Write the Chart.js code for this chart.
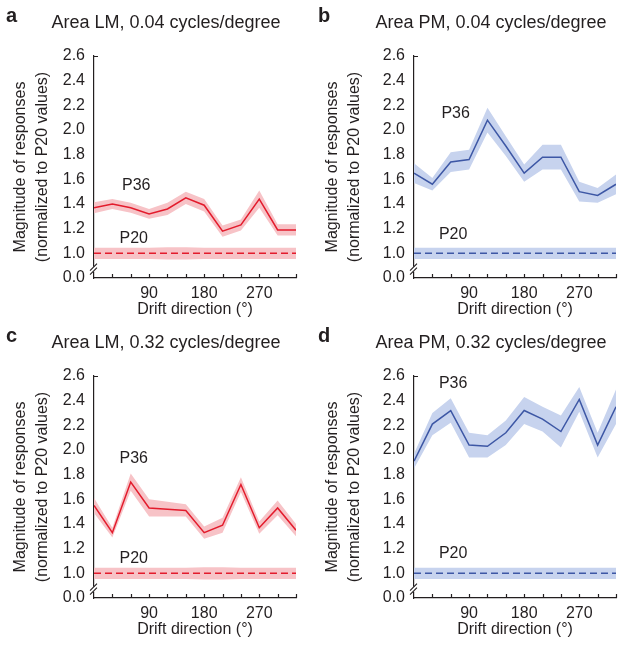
<!DOCTYPE html>
<html>
<head>
<meta charset="utf-8">
<title>P36 vs P20 responses by drift direction</title>
<script src="https://cdn.jsdelivr.net/npm/chart.js@4.4.1/dist/chart.umd.min.js"></script>
<style>
  body { margin: 0; background: #fff; }
  #wrap { position: relative; width: 624px; height: 645px; }
  .panel { position: absolute; }
</style>
</head>
<body>
<div id="wrap">
  <div class="panel" style="left:0;top:0"><canvas id="chartA" width="312" height="322"></canvas></div>
  <div class="panel" style="left:312px;top:0"><canvas id="chartB" width="312" height="322"></canvas></div>
  <div class="panel" style="left:0;top:320px"><canvas id="chartC" width="312" height="322"></canvas></div>
  <div class="panel" style="left:312px;top:320px"><canvas id="chartD" width="312" height="322"></canvas></div>
</div>
<script>
// drift directions (deg) and tick labels
var directions = [0, 30, 60, 90, 120, 150, 180, 210, 240, 270, 300, 330];
var xTickLabels = ["90", "180", "270"];
var yTickValues = [0.8, 1.0, 1.2, 1.4, 1.6, 1.8, 2.0, 2.2, 2.4, 2.6];
var yTickLabels = ["0.0", "1.0", "1.2", "1.4", "1.6", "1.8", "2.0", "2.2", "2.4", "2.6"];

// a: Area LM, 0.04 cycles/degree
var lm004P36 = [1.37, 1.40, 1.37, 1.32, 1.36, 1.45, 1.39, 1.18, 1.23, 1.44, 1.19, 1.19];
var lm004P36Sem = [0.045, 0.04, 0.04, 0.04, 0.05, 0.05, 0.05, 0.045, 0.045, 0.07, 0.045, 0.045];
var lm004P20 = [1, 1, 1, 1, 1, 1, 1, 1, 1, 1, 1, 1];
var lm004P20Sem = [0.045, 0.045, 0.045, 0.045, 0.05, 0.05, 0.045, 0.045, 0.045, 0.045, 0.045, 0.045];

// b: Area PM, 0.04 cycles/degree
var pm004P36 = [1.65, 1.56, 1.74, 1.76, 2.08, 1.87, 1.65, 1.78, 1.78, 1.50, 1.47, 1.56];
var pm004P36Sem = [0.08, 0.05, 0.08, 0.08, 0.10, 0.08, 0.07, 0.10, 0.10, 0.08, 0.06, 0.08];
var pm004P20 = [1, 1, 1, 1, 1, 1, 1, 1, 1, 1, 1, 1];
var pm004P20Sem = [0.045, 0.045, 0.045, 0.045, 0.045, 0.045, 0.045, 0.045, 0.045, 0.045, 0.045, 0.045];

// c: Area LM, 0.32 cycles/degree
var lm032P36 = [1.55, 1.33, 1.74, 1.53, 1.52, 1.51, 1.33, 1.39, 1.72, 1.37, 1.53, 1.35];
var lm032P36Sem = [0.06, 0.04, 0.07, 0.07, 0.06, 0.05, 0.05, 0.06, 0.06, 0.05, 0.06, 0.05];
var lm032P20 = [1, 1, 1, 1, 1, 1, 1, 1, 1, 1, 1, 1];
var lm032P20Sem = [0.045, 0.045, 0.045, 0.045, 0.045, 0.045, 0.05, 0.05, 0.045, 0.045, 0.045, 0.045];

// d: Area PM, 0.32 cycles/degree
var pm032P36 = [1.91, 2.21, 2.32, 2.04, 2.03, 2.14, 2.32, 2.25, 2.15, 2.41, 2.04, 2.35];
var pm032P36Sem = [0.06, 0.09, 0.10, 0.10, 0.09, 0.10, 0.11, 0.10, 0.13, 0.10, 0.10, 0.14];
var pm032P20 = [1, 1, 1, 1, 1, 1, 1, 1, 1, 1, 1, 1];
var pm032P20Sem = [0.045, 0.045, 0.045, 0.045, 0.045, 0.045, 0.045, 0.045, 0.045, 0.045, 0.045, 0.045];

var FONT = '"Liberation Sans", Arial, Helvetica, sans-serif';
var INK = "#231f20";
var RED = "#e31b2c", RED_BAND = "#f7c3c7";
var BLUE = "#3d57a5", BLUE_BAND = "#c7d3ee";

function pts(vals, err, sign) {
  return directions.map(function(d, i) {
    return { x: d, y: vals[i] + (err ? sign * err[i] : 0) };
  });
}

// letter, title, series labels, inward ticks and the axis break
var panelDecor = {
  id: "panelDecor",
  afterDraw: function(chart, args, o) {
    var ctx = chart.ctx, xs = chart.scales.x, ys = chart.scales.y, ca = chart.chartArea;
    ctx.save();
    ctx.fillStyle = INK;
    ctx.textBaseline = "alphabetic";
    ctx.textAlign = "left";
    ctx.font = "bold 20px " + FONT;
    ctx.fillText(o.letter, 6, 22);
    ctx.font = "18px " + FONT;
    ctx.textAlign = "center";
    ctx.fillText(o.title, o.titleX, 28);

    ctx.font = "16px " + FONT;
    ctx.textBaseline = "middle";
    o.labels.forEach(function(l) {
      ctx.fillText(l.text, xs.getPixelForValue(l.x), ys.getPixelForValue(l.y));
    });

    ctx.strokeStyle = INK;
    ctx.lineWidth = 1.2;
    ctx.beginPath();
    directions.forEach(function(d) {
      if (d === 0) return;
      var px = Math.round(xs.getPixelForValue(d)) + 0.5;
      ctx.moveTo(px, ca.bottom);
      ctx.lineTo(px, ca.bottom - 4);
    });
    // small tick at top of y axis
    ctx.moveTo(ca.left, ca.top + 0.5);
    ctx.lineTo(ca.left + 4, ca.top + 0.5);
    ctx.stroke();

    // axis break
    var yb = (ys.getPixelForValue(1.0) + ca.bottom) / 2 + 4;
    ctx.fillStyle = "#fff";
    ctx.fillRect(ca.left - 3, yb - 3, 6, 5);
    ctx.lineWidth = 1.1;
    ctx.beginPath();
    ctx.moveTo(ca.left - 4, yb + 1);
    ctx.lineTo(ca.left + 3, yb - 6);
    ctx.moveTo(ca.left - 4, yb + 5);
    ctx.lineTo(ca.left + 3, yb - 2);
    ctx.stroke();
    ctx.restore();
  }
};

function makePanel(id, cfg) {
  var W = 312, H = 322;
  new Chart(document.getElementById(id), {
    type: "line",
    data: {
      datasets: [
        { data: pts(cfg.p36), borderColor: cfg.line, borderWidth: 1.5, pointRadius: 0, fill: false, tension: 0 },
        { data: pts(cfg.p20), borderColor: cfg.line, borderWidth: 1.5, borderDash: [7, 4], pointRadius: 0, fill: false },
        { data: pts(cfg.p36, cfg.p36Sem, 1), borderWidth: 0, pointRadius: 0, backgroundColor: cfg.band, fill: "+1" },
        { data: pts(cfg.p36, cfg.p36Sem, -1), borderWidth: 0, pointRadius: 0, fill: false },
        { data: pts(cfg.p20, cfg.p20Sem, 1), borderWidth: 0, pointRadius: 0, backgroundColor: cfg.band, fill: "+1" },
        { data: pts(cfg.p20, cfg.p20Sem, -1), borderWidth: 0, pointRadius: 0, fill: false }
      ]
    },
    options: {
      responsive: false,
      animation: false,
      events: [],
      layout: { padding: { left: 0, right: W - cfg.right, top: 56, bottom: 0 } },
      plugins: {
        legend: { display: false },
        tooltip: { enabled: false },
        panelDecor: { letter: cfg.letter, title: cfg.title, titleX: cfg.titleX, labels: cfg.labels }
      },
      scales: {
        x: {
          type: "linear",
          min: 0, max: 330,
          afterFit: function(s) { s.height = H - 278; },
          afterBuildTicks: function(s) { s.ticks = directions.map(function(d) { return { value: d }; }); },
          grid: { display: false, drawTicks: false },
          border: { color: INK, width: 1.2 },
          ticks: {
            autoSkip: false, maxRotation: 0, padding: 6, color: INK,
            font: { family: FONT, size: 16 },
            callback: function(v) { return xTickLabels.indexOf(String(v)) >= 0 ? String(v) : ""; }
          },
          title: { display: true, text: "Drift direction (°)", color: INK, font: { family: FONT, size: 16 }, padding: { top: 0, bottom: 3 } }
        },
        y: {
          min: 0.8, max: 2.6,
          afterFit: function(s) { s.width = cfg.left; },
          afterBuildTicks: function(s) { s.ticks = yTickValues.map(function(v) { return { value: v }; }); },
          grid: { display: false, drawTicks: false },
          border: { color: INK, width: 1.2 },
          ticks: {
            padding: 9, color: INK,
            font: { family: FONT, size: 16 },
            callback: function(v) {
              var i = yTickValues.findIndex(function(t) { return Math.abs(t - v) < 1e-6; });
              return i >= 0 ? yTickLabels[i] : "";
            }
          },
          title: {
            display: true,
            text: ["Magnitude of responses", "(normalized to P20 values)"],
            color: INK, font: { family: FONT, size: 16, lineHeight: 1.35 },
            padding: { top: 10, bottom: 0 }
          }
        }
      }
    },
    plugins: [panelDecor]
  });
}

makePanel("chartA", {
  letter: "a", title: "Area LM, 0.04 cycles/degree", titleX: 166, left: 94, right: 296,
  p36: lm004P36, p36Sem: lm004P36Sem, p20: lm004P20, p20Sem: lm004P20Sem,
  line: RED, band: RED_BAND,
  labels: [{ text: "P36", x: 69, y: 1.55 }, { text: "P20", x: 65, y: 1.12 }]
});
makePanel("chartB", {
  letter: "b", title: "Area PM, 0.04 cycles/degree", titleX: 179, left: 102, right: 304,
  p36: pm004P36, p36Sem: pm004P36Sem, p20: pm004P20, p20Sem: pm004P20Sem,
  line: BLUE, band: BLUE_BAND,
  labels: [{ text: "P36", x: 68, y: 2.13 }, { text: "P20", x: 64, y: 1.15 }]
});
makePanel("chartC", {
  letter: "c", title: "Area LM, 0.32 cycles/degree", titleX: 166, left: 94, right: 296,
  p36: lm032P36, p36Sem: lm032P36Sem, p20: lm032P20, p20Sem: lm032P20Sem,
  line: RED, band: RED_BAND,
  labels: [{ text: "P36", x: 65, y: 1.93 }, { text: "P20", x: 65, y: 1.12 }]
});
makePanel("chartD", {
  letter: "d", title: "Area PM, 0.32 cycles/degree", titleX: 179, left: 102, right: 304,
  p36: pm032P36, p36Sem: pm032P36Sem, p20: pm032P20, p20Sem: pm032P20Sem,
  line: BLUE, band: BLUE_BAND,
  labels: [{ text: "P36", x: 64, y: 2.54 }, { text: "P20", x: 64, y: 1.16 }]
});
</script>
</body>
</html>
